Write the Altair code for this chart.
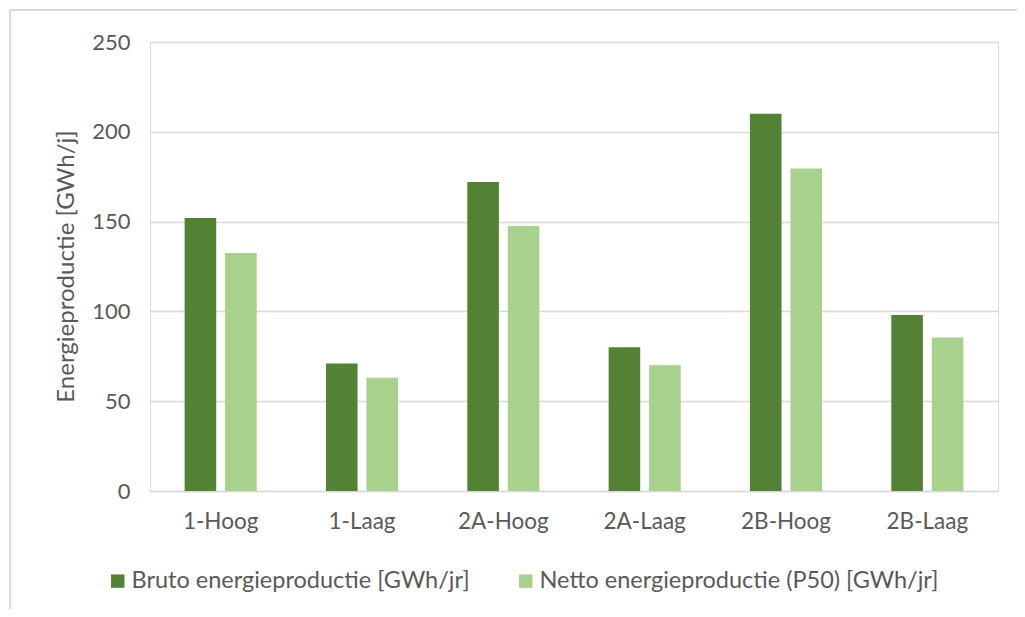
import altair as alt
import pandas as pd

categories = ["1-Hoog", "1-Laag", "2A-Hoog", "2A-Laag", "2B-Hoog", "2B-Laag"]
bruto = [152, 71, 172, 80, 210, 98]
netto = [132.5, 63, 147.5, 70, 179.5, 85.5]
series_names = ["Bruto energieproductie [GWh/jr]", "Netto energieproductie (P50) [GWh/jr]"]
series_colors = ["#548235", "#A9D18E"]
y_ticks = [0, 50, 100, 150, 200, 250]

rows = []
for c, b, n in zip(categories, bruto, netto):
    rows.append({"cat": c, "serie": series_names[0], "val": b})
    rows.append({"cat": c, "serie": series_names[1], "val": n})
df = pd.DataFrame(rows)

FONT = "Lato"
W, H = 848, 449

bars = alt.Chart(df).mark_bar().encode(
    x=alt.X("cat:N", sort=categories, title=None,
            scale=alt.Scale(paddingInner=0.49, paddingOuter=0.245),
            axis=alt.Axis(labelAngle=0, labelFontSize=22.5, labelColor="#595959",
                          labelFont=FONT, ticks=False, domain=True,
                          domainColor="#d9d9d9", domainWidth=1.5,
                          labelPadding=19, grid=False)),
    xOffset=alt.XOffset("serie:N", sort=series_names,
                        scale=alt.Scale(paddingInner=0.22)),
    y=alt.Y("val:Q", title="Energieproductie [GWh/j]",
            scale=alt.Scale(domain=[0, 250], nice=False),
            axis=alt.Axis(values=y_ticks, labelFontSize=22, labelColor="#595959",
                          labelFont=FONT, ticks=False, domain=False,
                          gridColor="#d9d9d9", gridWidth=1.5, labelPadding=20,
                          titleFont=FONT, titleFontSize=24, titleColor="#595959",
                          titleFontWeight="normal", titleX=-84, titleY=224,
                          titleAngle=-90, titleBaseline="middle", titleAlign="center")),
    color=alt.Color("serie:N", sort=series_names,
                    scale=alt.Scale(domain=series_names, range=series_colors),
                    legend=alt.Legend(title=None, orient="none", direction="horizontal",
                                      legendX=-44, legendY=527, columns=2,
                                      symbolType="square", symbolSize=180,
                                      symbolStrokeWidth=0, labelFont=FONT,
                                      labelFontSize=23.5, labelColor="#595959",
                                      labelOffset=2, columnPadding=44,
                                      labelLimit=600)),
)

frame_top = alt.Chart(df).mark_rule(color="#d9d9d9", strokeWidth=2).encode(
    x=alt.value(-140), x2=alt.value(880), y=alt.value(-32)
)
frame_left = alt.Chart(df).mark_rule(color="#d9d9d9", strokeWidth=2).encode(
    x=alt.value(-140), y=alt.value(-32), y2=alt.value(600)
)

chart = alt.layer(frame_top, frame_left, bars).properties(
    width=W, height=H,
    autosize=alt.AutoSizeParams(type="none"),
    padding={"left": 142, "top": 34, "right": 19, "bottom": 118},
).configure_view(stroke=None).configure(background="white")

chart.save("out.html", embed_options={"renderer": "svg", "actions": False})
